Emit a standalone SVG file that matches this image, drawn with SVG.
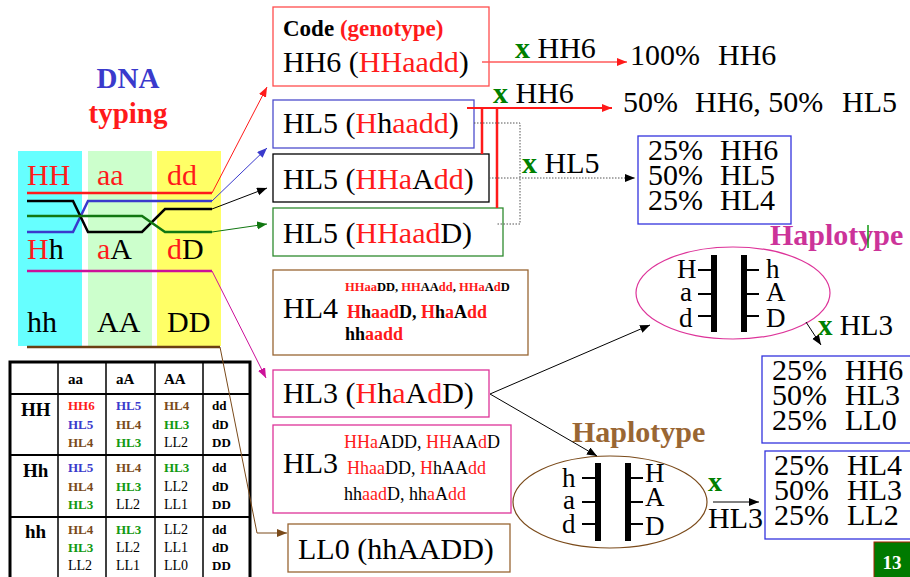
<svg xmlns="http://www.w3.org/2000/svg" width="910" height="577" viewBox="0 0 910 577">
<style>
text{font-family:"Liberation Serif","Times New Roman",serif;fill:#000}
.big{font-size:30px}
.hl{font-size:27px}
.b{font-weight:bold}
.r{fill:#ff1a1a}
.bl{fill:#3a3acc}
.br{fill:#7a4a1a}
.g{fill:#119911}
.gx{fill:#008000;font-weight:bold}
.box{fill:#fff;stroke-width:1.3}
.tb{font-size:13px;font-weight:bold}
.tn{font-size:14px}
</style>
<defs>
<marker id="aR" markerUnits="userSpaceOnUse" markerWidth="11" markerHeight="9" refX="10" refY="4" orient="auto"><path d="M0,0 L10,4 L0,8 z" fill="#ff1a1a"/></marker>
<marker id="aB" markerUnits="userSpaceOnUse" markerWidth="11" markerHeight="9" refX="10" refY="4" orient="auto"><path d="M0,0 L10,4 L0,8 z" fill="#3a3acc"/></marker>
<marker id="aK" markerUnits="userSpaceOnUse" markerWidth="11" markerHeight="9" refX="10" refY="4" orient="auto"><path d="M0,0 L10,4 L0,8 z" fill="#000"/></marker>
<marker id="aG" markerUnits="userSpaceOnUse" markerWidth="11" markerHeight="9" refX="10" refY="4" orient="auto"><path d="M0,0 L10,4 L0,8 z" fill="#117711"/></marker>
<marker id="aM" markerUnits="userSpaceOnUse" markerWidth="11" markerHeight="9" refX="10" refY="4" orient="auto"><path d="M0,0 L10,4 L0,8 z" fill="#cc1199"/></marker>
<marker id="aN" markerUnits="userSpaceOnUse" markerWidth="11" markerHeight="9" refX="10" refY="4" orient="auto"><path d="M0,0 L10,4 L0,8 z" fill="#7a4a1a"/></marker>
</defs>

<!-- DNA typing panel -->
<g id="dna-typing">
<text x="128" y="88" text-anchor="middle" class="b" style="font-size:29px;fill:#3a3acc">DNA</text>
<text x="128" y="123" text-anchor="middle" class="b r" style="font-size:29px">typing</text>
<rect x="18" y="151" width="64" height="195" fill="#66ffff"/>
<rect x="88" y="151" width="64" height="195" fill="#ccffcc"/>
<rect x="157" y="151" width="64" height="195" fill="#ffff66"/>
<text class="big" x="27" y="185"><tspan class="r">HH</tspan></text>
<text class="big" x="97" y="185"><tspan class="r">aa</tspan></text>
<text class="big" x="167" y="185"><tspan class="r">dd</tspan></text>
<text class="big" x="27" y="259"><tspan class="r">H</tspan>h</text>
<text class="big" x="97" y="259"><tspan class="r">a</tspan>A</text>
<text class="big" x="167" y="259"><tspan class="r">d</tspan>D</text>
<text class="big" x="27" y="332">hh</text>
<text class="big" x="97" y="332">AA</text>
<text class="big" x="167" y="332">DD</text>
</g>

<!-- table -->
<g id="table">
<rect x="10" y="362" width="240" height="220" fill="#fff" stroke="#000" stroke-width="3"/>
<g stroke="#000" stroke-width="1.5">
<line x1="58" y1="362" x2="58" y2="577"/>
<line x1="106" y1="362" x2="106" y2="577"/>
<line x1="155" y1="362" x2="155" y2="577"/>
<line x1="203" y1="362" x2="203" y2="577"/>
<line x1="10" y1="394" x2="250" y2="394" stroke-width="2"/>
<line x1="10" y1="455" x2="250" y2="455" stroke-width="2"/>
<line x1="10" y1="517" x2="250" y2="517" stroke-width="2"/>
</g>
<text class="b" style="font-size:15px" x="68" y="384">aa</text>
<text class="b" style="font-size:15px" x="116" y="384">aA</text>
<text class="b" style="font-size:15px" x="164" y="384">AA</text>
<text class="b" style="font-size:19px" x="21" y="416">HH</text>
<text class="b" style="font-size:19px" x="23" y="477">Hh</text>
<text class="b" style="font-size:19px" x="25" y="538">hh</text>
<!-- HH row -->
<text class="tb r" x="68" y="410">HH6</text>
<text class="tb bl" x="68" y="429">HL5</text>
<text class="tb br" x="68" y="447">HL4</text>
<text class="tb bl" x="116" y="410">HL5</text>
<text class="tb br" x="116" y="429">HL4</text>
<text class="tb g" x="116" y="447">HL3</text>
<text class="tb br" x="164" y="410">HL4</text>
<text class="tb g" x="164" y="429">HL3</text>
<text class="tn" x="164" y="447">LL2</text>
<text class="tb" x="212" y="410">dd</text>
<text class="tb" x="212" y="429">dD</text>
<text class="tb" x="212" y="447">DD</text>
<!-- Hh row -->
<text class="tb bl" x="68" y="472">HL5</text>
<text class="tb br" x="68" y="491">HL4</text>
<text class="tb g" x="68" y="509">HL3</text>
<text class="tb br" x="116" y="472">HL4</text>
<text class="tb g" x="116" y="491">HL3</text>
<text class="tn" x="116" y="509">LL2</text>
<text class="tb g" x="164" y="472">HL3</text>
<text class="tn" x="164" y="491">LL2</text>
<text class="tn" x="164" y="509">LL1</text>
<text class="tb" x="212" y="472">dd</text>
<text class="tb" x="212" y="491">dD</text>
<text class="tb" x="212" y="509">DD</text>
<!-- hh row -->
<text class="tb br" x="68" y="534">HL4</text>
<text class="tb g" x="68" y="552">HL3</text>
<text class="tn" x="68" y="570">LL2</text>
<text class="tb g" x="116" y="534">HL3</text>
<text class="tn" x="116" y="552">LL2</text>
<text class="tn" x="116" y="570">LL1</text>
<text class="tn" x="164" y="534">LL2</text>
<text class="tn" x="164" y="552">LL1</text>
<text class="tn" x="164" y="570">LL0</text>
<text class="tb" x="212" y="534">dd</text>
<text class="tb" x="212" y="552">dD</text>
<text class="tb" x="212" y="570">DD</text>
</g>

<!-- nodes -->
<g id="box-hh6">
<rect class="box" x="273" y="7" width="216" height="79" stroke="#ff4d4d"/>
<text x="283" y="36" class="b" style="font-size:23px">Code <tspan class="r">(genotype)</tspan></text>
<text class="big" x="283" y="72">HH6 (<tspan class="r">HHaadd</tspan>)</text>
</g>
<g id="box-hl5-a">
<rect class="box" x="273" y="100" width="201" height="48" stroke="#4d4dcc"/>
<text class="big" x="283" y="133">HL5 (<tspan class="r">H</tspan>h<tspan class="r">aadd</tspan>)</text>
</g>
<g id="box-hl5-b">
<rect class="box" x="273" y="154" width="216" height="48" stroke="#000"/>
<text class="big" x="283" y="189">HL5 (<tspan class="r">HHa</tspan>A<tspan class="r">dd</tspan>)</text>
</g>
<g id="box-hl5-c">
<rect class="box" x="273" y="208" width="230" height="48" stroke="#2e8b2e"/>
<text class="big" x="283" y="243">HL5 (<tspan class="r">HHaad</tspan>D)</text>
</g>
<g id="box-hl4">
<rect class="box" x="273" y="270" width="255" height="85" stroke="#996633"/>
<text class="big" x="283" y="318">HL4</text>
<text x="345" y="291" class="b" style="font-size:12.5px"><tspan class="r">HHaa</tspan>DD, <tspan class="r">HH</tspan>AA<tspan class="r">dd</tspan>, <tspan class="r">HHa</tspan>A<tspan class="r">d</tspan>D</text>
<text x="347" y="318" class="b" style="font-size:18px"><tspan class="r">H</tspan>h<tspan class="r">aad</tspan>D, <tspan class="r">H</tspan>h<tspan class="r">a</tspan>A<tspan class="r">dd</tspan></text>
<text x="345" y="340" class="b" style="font-size:18px">hh<tspan class="r">aadd</tspan></text>
</g>
<g id="box-hl3">
<rect class="box" x="273" y="370" width="216" height="47" stroke="#dd3399"/>
<text class="big" x="283" y="403">HL3 (<tspan class="r">H</tspan>h<tspan class="r">a</tspan>A<tspan class="r">d</tspan>D)</text>
</g>
<g id="box-hl3-list">
<rect class="box" x="273" y="425" width="238" height="88" stroke="#dd3399"/>
<text class="big" x="283" y="473">HL3</text>
<text x="344" y="448" style="font-size:18px"><tspan class="r">HHa</tspan>ADD, <tspan class="r">HH</tspan>AA<tspan class="r">d</tspan>D</text>
<text x="347" y="474" style="font-size:18px"><tspan class="r">Hhaa</tspan>DD, <tspan class="r">H</tspan>hAA<tspan class="r">dd</tspan></text>
<text x="344" y="500" style="font-size:18px">hh<tspan class="r">aad</tspan>D, hh<tspan class="r">a</tspan>A<tspan class="r">dd</tspan></text>
</g>
<g id="box-ll0">
<rect class="box" x="288" y="524" width="222" height="48" stroke="#996633"/>
<text class="big" x="298" y="559">LL0 (hhAADD)</text>
</g>

<g id="res-100">
<text class="big" x="630" y="65">100%<tspan x="718">HH6</tspan></text>
</g>
<g id="res-50">
<text class="big" x="623" y="112">50%<tspan x="695">HH6, 50%</tspan><tspan x="842">HL5</tspan></text>
</g>
<g id="res-hl5">
<rect class="box" x="638" y="136" width="153" height="88" stroke="#3333dd"/>
<text class="big" x="648" y="160">25%<tspan x="720">HH6</tspan></text>
<text class="big" x="648" y="185">50%<tspan x="720">HL5</tspan></text>
<text class="big" x="648" y="210">25%<tspan x="720">HL4</tspan></text>
</g>

<g id="hap-top">
<text x="770" y="245" class="b" style="font-size:30px;fill:#cc3399">Haplotype</text>
<line x1="868" y1="225" x2="868" y2="248" stroke="#119911" stroke-width="1.5"/>
<ellipse cx="733" cy="293" rx="97" ry="46" fill="none" stroke="#dd3399" stroke-width="1.2"/>
<text class="hl" x="677" y="278">H</text>
<text class="hl" x="680" y="301">a</text>
<text class="hl" x="679" y="327">d</text>
<g stroke="#000">
<line x1="714" y1="255" x2="714" y2="332" stroke-width="6"/>
<line x1="744" y1="255" x2="744" y2="332" stroke-width="6"/>
<line x1="698" y1="270" x2="714" y2="270" stroke-width="2"/>
<line x1="698" y1="294" x2="714" y2="294" stroke-width="2"/>
<line x1="698" y1="316" x2="714" y2="316" stroke-width="2"/>
<line x1="744" y1="270" x2="759" y2="270" stroke-width="2"/>
<line x1="744" y1="294" x2="759" y2="294" stroke-width="2"/>
<line x1="744" y1="316" x2="759" y2="316" stroke-width="2"/>
</g>
<text class="hl" x="766" y="278">h</text>
<text class="hl" x="766" y="301">A</text>
<text class="hl" x="766" y="327">D</text>
</g>

<g id="res-hl3-a">
<rect class="box" x="762" y="356" width="150" height="87" stroke="#3333dd"/>
<text class="big" x="772" y="380">25%<tspan x="845">HH6</tspan></text>
<text class="big" x="772" y="405">50%<tspan x="845">HL3</tspan></text>
<text class="big" x="772" y="430">25%<tspan x="845">LL0</tspan></text>
</g>

<g id="hap-bottom">
<text x="572" y="442" class="b" style="font-size:30px;fill:#996633">Haplotype</text>
<ellipse cx="610" cy="502" rx="97" ry="46" fill="none" stroke="#7a4a1a" stroke-width="1.2"/>
<text class="hl" x="562" y="487">h</text>
<text class="hl" x="563" y="509">a</text>
<text class="hl" x="562" y="533">d</text>
<g stroke="#000">
<line x1="598" y1="463" x2="598" y2="541" stroke-width="6"/>
<line x1="628" y1="463" x2="628" y2="541" stroke-width="6"/>
<line x1="582" y1="478" x2="598" y2="478" stroke-width="2"/>
<line x1="582" y1="502" x2="598" y2="502" stroke-width="2"/>
<line x1="582" y1="524" x2="598" y2="524" stroke-width="2"/>
<line x1="628" y1="478" x2="643" y2="478" stroke-width="2"/>
<line x1="628" y1="502" x2="643" y2="502" stroke-width="2"/>
<line x1="628" y1="524" x2="643" y2="524" stroke-width="2"/>
</g>
<text class="hl" x="645" y="482">H</text>
<text class="hl" x="645" y="506">A</text>
<text class="hl" x="645" y="535">D</text>
</g>

<g id="res-hl3-b">
<rect class="box" x="765" y="451" width="147" height="88" stroke="#3333dd"/>
<text class="big" x="774" y="475">25%<tspan x="847">HL4</tspan></text>
<text class="big" x="774" y="500">50%<tspan x="847">HL3</tspan></text>
<text class="big" x="774" y="525">25%<tspan x="847">LL2</tspan></text>
</g>

<g id="page-number">
<rect x="874" y="542" width="37" height="36" fill="#007a00" stroke="#aa2200" stroke-width="1"/>
<text x="892" y="569" text-anchor="middle" class="b" style="font-size:19px;fill:#fff">13</text>
</g>

<!-- connectors -->
<g id="connectors" fill="none">
<path d="M27,193 H212" stroke="#ff1a1a" stroke-width="2.5"/>
<path d="M212,193 L267,87" stroke="#ff1a1a" stroke-width="1" marker-end="url(#aR)"/>
<path d="M27,232 H73 L88,201 H212" stroke="#3a3acc" stroke-width="2.5"/>
<path d="M212,201 L267,148" stroke="#3a3acc" stroke-width="1" marker-end="url(#aB)"/>
<path d="M27,201 H73 L88,232 H142 L165,209 H212" stroke="#000" stroke-width="2.5"/>
<path d="M212,209 L267,188" stroke="#000" stroke-width="1" marker-end="url(#aK)"/>
<path d="M27,216 H142 L165,232 H212" stroke="#117711" stroke-width="2.5"/>
<path d="M212,232 L267,224" stroke="#117711" stroke-width="1" marker-end="url(#aG)"/>
<path d="M27,271 H212" stroke="#cc1199" stroke-width="2.5"/>
<path d="M212,271 L266,378" stroke="#cc1199" stroke-width="1" marker-end="url(#aM)"/>
<path d="M27,347 H220" stroke="#6b3f12" stroke-width="2.5"/>
<path d="M220,347 L257,533 H287" stroke="#7a4a1a" stroke-width="1" marker-end="url(#aN)"/>
<path d="M482,62 H627" stroke="#ff5a5a" stroke-width="1.5" marker-end="url(#aR)"/>
<path d="M467,108 H612" stroke="#ff1a1a" stroke-width="2" marker-end="url(#aR)"/>
<path d="M482,108 V154 M497,108 V208" stroke="#ff1a1a" stroke-width="2.5"/>
<path d="M474,123 H520 V224 H497" stroke="#555" stroke-width="1" stroke-dasharray="1.5,1.5"/>
<path d="M489,178 H635" stroke="#555" stroke-width="1" stroke-dasharray="1.5,1.5" marker-end="url(#aK)"/>
<path d="M490,394 L650,325" stroke="#000" stroke-width="1" marker-end="url(#aK)"/>
<path d="M490,394 L597,456" stroke="#000" stroke-width="1" marker-end="url(#aK)"/>
<path d="M806,322 L821,345" stroke="#000" stroke-width="1" marker-end="url(#aK)"/>
<path d="M713,502 H759" stroke="#000" stroke-width="1" marker-end="url(#aK)"/>
</g>

<!-- connector labels -->
<g id="labels">
<text x="515" y="58" style="font-size:30px"><tspan class="gx">x</tspan> HH6</text>
<text x="493" y="103" style="font-size:30px"><tspan class="gx">x</tspan> HH6</text>
<text x="522" y="173" style="font-size:30px"><tspan class="gx">x</tspan> HL5</text>
<text x="818" y="335" style="font-size:29px"><tspan class="gx">x</tspan> HL3</text>
<text x="708" y="491" class="gx" style="font-size:28px">x</text>
<text x="708" y="528" class="big">HL3</text>
</g>
</svg>
